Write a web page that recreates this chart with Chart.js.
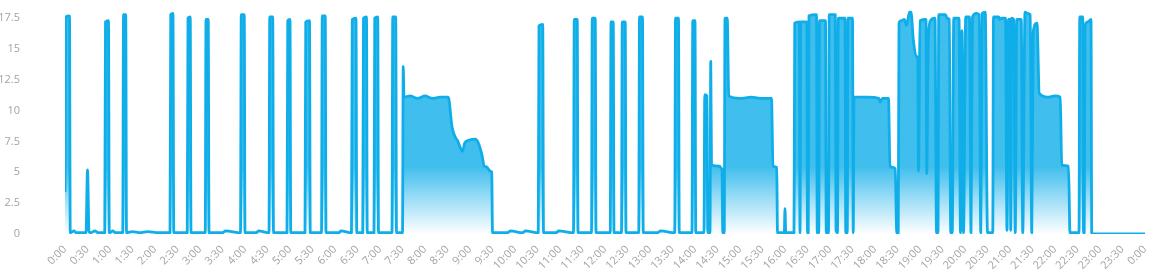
<!DOCTYPE html>
<html>
<head>
<meta charset="utf-8">
<script src="https://cdn.jsdelivr.net/npm/chart.js@4.4.0/dist/chart.umd.min.js"></script>
<style>
html, body { margin: 0; padding: 0; background: #fff; }
</style>
</head>
<body>
<canvas id="powerChart" width="1166" height="272"></canvas>
<script>
// Minutes since midnight
const minutes = [
    0, 1, 6, 7, 12, 15, 28, 30, 32, 34, 40, 44,
    53, 54, 58, 59, 64, 67, 77, 78, 81, 82, 90, 100, 110, 125,
    140, 141, 144, 145, 163, 164, 167, 168, 187, 188, 191, 192,
    210, 214, 234, 235, 239, 240, 255, 258, 272, 273, 277, 278,
    296, 297, 300, 301, 320, 321, 326, 327, 342, 343, 347, 348,
    365, 368, 382, 383, 388, 389, 397, 398, 402, 403,
    412, 413, 417, 418, 436, 437, 441, 442,
    450, 451, 452, 460, 470, 480, 490, 500, 511, 516, 520, 524, 527, 530,
    533, 538, 547, 551, 556, 559, 562, 567, 569, 570,
    590, 594, 610, 614, 631, 632, 637, 638, 655, 658,
    678, 679, 683, 684, 702, 703, 707, 708, 727, 728, 731, 732,
    742, 743, 747, 748, 765, 766, 770, 771, 790, 794, 813, 814, 818, 819,
    836, 837, 840, 841, 852, 853, 856, 857, 860, 861, 862, 873, 875, 876, 877,
    879, 880, 883, 885, 900, 915, 930, 942, 944, 949, 950, 959, 960, 961,
    972, 973, 979, 980, 981, 989, 990, 991, 992, 1002, 1003,
    1005, 1006, 1014, 1015, 1018, 1019, 1027, 1028, 1030, 1031, 1040, 1041,
    1043, 1044, 1050, 1051, 1052, 1070, 1085, 1087, 1090, 1098, 1100, 1107, 1109,
    1111, 1112, 1115, 1119, 1122, 1126, 1128, 1131, 1135, 1137, 1138, 1140, 1148, 1149,
    1151, 1154, 1160, 1162, 1164, 1165, 1174, 1176, 1179, 1181, 1183, 1185, 1192, 1194,
    1196, 1198, 1201, 1206, 1208, 1210, 1215, 1219, 1221, 1223, 1227, 1230, 1237,
    1238, 1245, 1246, 1249, 1254, 1256, 1258, 1260, 1261, 1262, 1265, 1267,
    1269, 1275, 1277, 1280, 1283, 1287, 1289, 1291, 1296, 1299, 1310, 1320, 1327,
    1329, 1338, 1340, 1346, 1352, 1353, 1357, 1358, 1359, 1360, 1364, 1368, 1369, 1440
];

// Power in kW at each of those minutes
const kw = [
    3.4, 17.6, 17.7, 0.1, 0.25, 0.1, 0.1, 5.2, 0.2, 0.1, 0.25, 0.1,
    0.1, 17.2, 17.3, 0.1, 0.25, 0.1, 0.1, 17.8, 17.8, 0.1, 0.2, 0.1, 0.2, 0.1,
    0.1, 17.8, 17.9, 0.1, 0.1, 17.5, 17.6, 0.1, 0.1, 17.4, 17.4, 0.1,
    0.1, 0.25, 0.1, 17.8, 17.8, 0.1, 0.1, 0.25, 0.1, 17.6, 17.6, 0.1,
    0.1, 17.3, 17.4, 0.1, 0.1, 17.2, 17.3, 0.1, 0.1, 17.7, 17.7, 0.1,
    0.1, 0.25, 0.1, 17.4, 17.5, 0.1, 0.1, 17.5, 17.6, 0.1,
    0.1, 17.5, 17.6, 0.1, 0.1, 17.6, 17.6, 0.1,
    0.1, 13.6, 11.1, 11.2, 11.0, 11.2, 11.0, 11.1, 11.1, 8.7, 7.9, 7.5, 7.0, 6.7,
    7.4, 7.6, 7.7, 7.4, 6.4, 5.5, 5.45, 5.1, 5.0, 0.1,
    0.1, 0.25, 0.1, 0.25, 0.1, 16.9, 17.0, 0.1, 0.1, 0.25,
    0.1, 17.4, 17.4, 0.1, 0.1, 17.5, 17.5, 0.1, 0.1, 17.2, 17.2, 0.1,
    0.1, 17.2, 17.2, 0.1, 0.1, 17.6, 17.6, 0.1, 0.1, 0.25, 0.1, 17.5, 17.5, 0.1,
    0.1, 17.3, 17.3, 0.1, 0.1, 11.3, 11.2, 0.1, 0.1, 14.0, 5.6, 5.5, 5.3, 5.3, 0.1,
    0.1, 17.5, 17.5, 11.2, 11.0, 11.1, 11.0, 11.0, 5.5, 5.4, 0.1, 0.1, 2.05, 0.1,
    0.1, 17.1, 17.2, 0.1, 17.2, 17.2, 0.1, 0.1, 17.7, 17.8, 0.1,
    0.1, 17.3, 17.3, 0.1, 0.1, 17.8, 17.8, 0.3, 0.1, 17.5, 17.5, 0.1,
    0.1, 17.5, 17.5, 0.1, 11.1, 11.1, 11.0, 10.7, 11.0, 11.0, 5.5, 5.3, 0.1,
    0.1, 17.1, 17.3, 17.4, 16.9, 18.0, 18.0, 15.8, 14.4, 14.3, 5.1, 17.3, 17.4, 4.9,
    15.6, 17.3, 17.5, 0.1, 0.1, 17.8, 17.8, 17.5, 17.4, 0.1, 0.1, 17.5, 17.5, 0.1,
    16.5, 0.1, 17.6, 17.6, 0.1, 17.6, 17.9, 17.8, 0.1, 17.9, 18.0, 0.1, 0.1,
    17.6, 17.6, 17.4, 17.5, 17.5, 0.3, 17.4, 17.4, 0.3, 17.5, 17.4, 0.1,
    17.4, 17.4, 0.1, 18.0, 17.9, 17.8, 0.1, 16.4, 17.1, 11.4, 11.1, 11.2, 11.1,
    5.6, 5.5, 0.1, 0.1, 0.1, 17.6, 17.6, 0.1, 0.1, 16.9, 17.2, 17.4, 0, 0
];

const tickLabels = [
    '0:00', '0:30', '1:00', '1:30', '2:00', '2:30', '3:00', '3:30',
    '4:00', '4:30', '5:00', '5:30', '6:00', '6:30', '7:00', '7:30',
    '8:00', '8:30', '9:00', '9:30', '10:00', '10:30', '11:00', '11:30',
    '12:00', '12:30', '13:00', '13:30', '14:00', '14:30', '15:00', '15:30',
    '16:00', '16:30', '17:00', '17:30', '18:00', '18:30', '19:00', '19:30',
    '20:00', '20:30', '21:00', '21:30', '22:00', '22:30', '23:00', '23:30', '0:00'
];

const yTicks = [0, 2.5, 5, 7.5, 10, 12.5, 15, 17.5];

const points = minutes.map((m, i) => ({ x: m, y: kw[i] }));
const tickFont = { family: 'Open Sans', size: 11 };
const tickColor = '#a3a3a3';

const ctx = document.getElementById('powerChart').getContext('2d');
const powerChart = new Chart(ctx, {
    type: 'line',
    data: {
        datasets: [{
            data: points,
            borderColor: '#10aee9',
            borderWidth: 2.8,
            borderJoinStyle: 'round',
            pointRadius: 0,
            cubicInterpolationMode: 'monotone',
            fill: 'origin',
            backgroundColor: (c) => {
                const area = c.chart.chartArea;
                if (!area) return 'rgba(16,174,233,0.8)';
                const g = c.chart.ctx.createLinearGradient(0, area.top, 0, area.bottom);
                g.addColorStop(0, 'rgba(16,174,233,0.8)');
                g.addColorStop(0.7, 'rgba(16,174,233,0.8)');
                g.addColorStop(1, 'rgba(16,174,233,0)');
                return g;
            }
        }]
    },
    options: {
        responsive: false,
        animation: false,
        layout: { padding: { top: 9, right: 21, left: 0, bottom: 0 } },
        plugins: { legend: { display: false }, tooltip: { enabled: false } },
        scales: {
            x: {
                type: 'linear',
                min: 0,
                max: 1440,
                grid: { display: false, drawTicks: false },
                border: { display: false },
                afterFit: (s) => { s.height = 38; },
                ticks: {
                    stepSize: 30,
                    autoSkip: false,
                    maxRotation: 45,
                    minRotation: 45,
                    padding: 9,
                    color: tickColor,
                    font: tickFont,
                    callback: (v) => tickLabels[Math.round(v / 30)]
                }
            },
            y: {
                min: 0,
                max: 18.25,
                grid: { display: false, drawTicks: false },
                border: { display: false },
                afterFit: (s) => {
                    s.width = 65;
                    s.paddingTop = 0;
                    s.paddingBottom = 0;
                },
                afterBuildTicks: (s) => { s.ticks = yTicks.map(v => ({ value: v })); },
                ticks: {
                    padding: 45,
                    color: tickColor,
                    font: tickFont
                }
            }
        }
    }
});
</script>
</body>
</html>
